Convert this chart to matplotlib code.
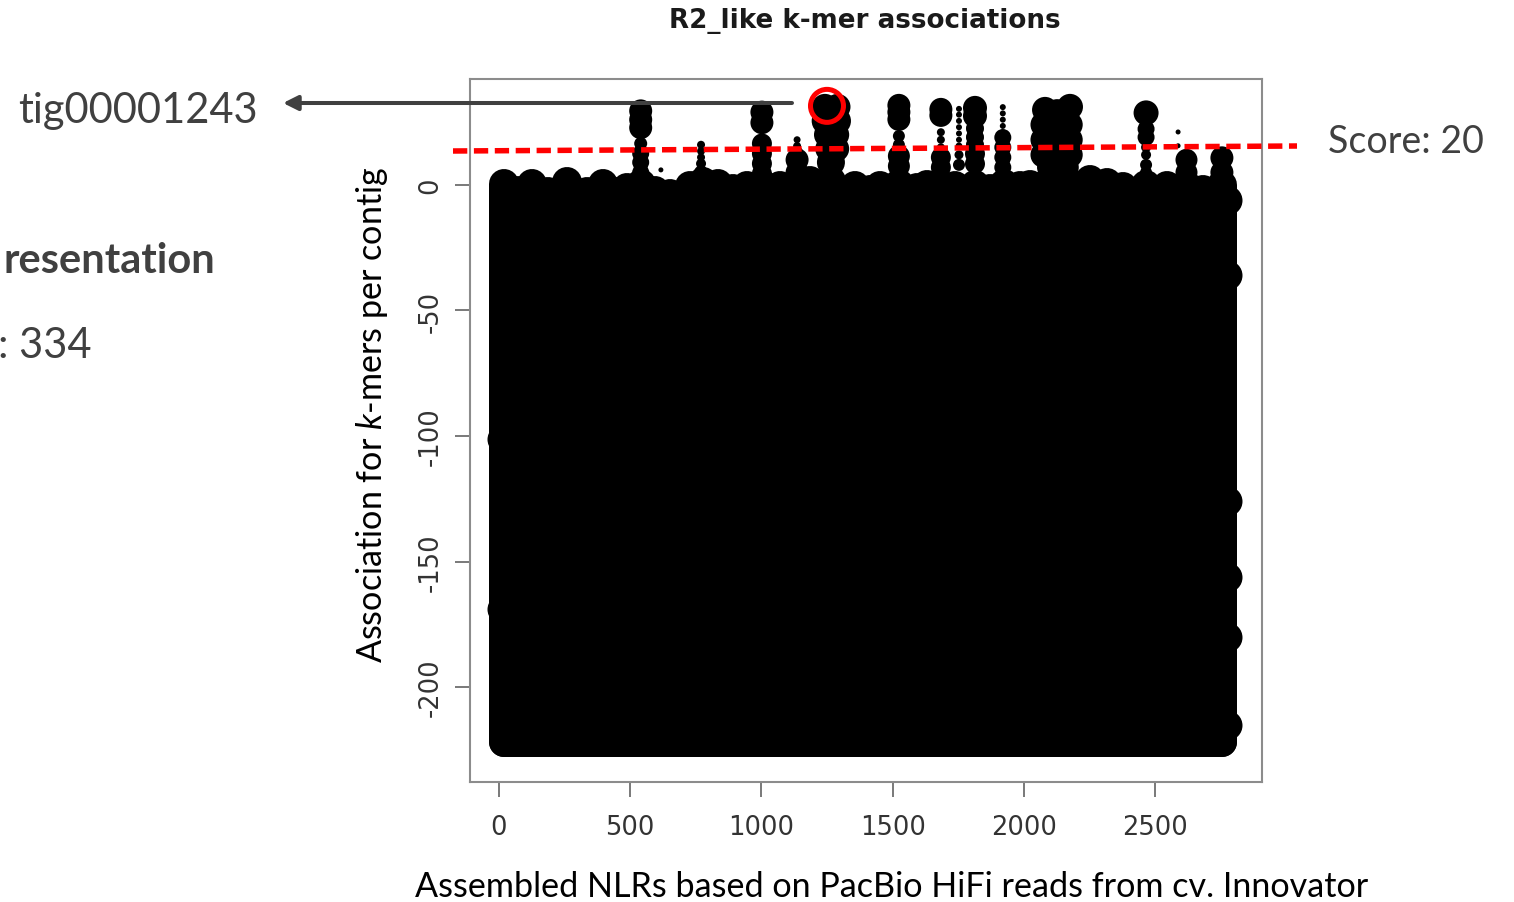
import matplotlib
matplotlib.use("Agg")
import matplotlib.pyplot as plt
from matplotlib.lines import Line2D

plt.rcParams["mathtext.fontset"] = "custom"
plt.rcParams["mathtext.rm"] = "Lato"
plt.rcParams["mathtext.it"] = "Lato:italic"
plt.rcParams["axes.unicode_minus"] = False

# body of the plot: one column of k-mers per contig (top value per contig)
body_x = [19, 67, 125, 187, 258, 334, 397, 448, 487, 540, 594, 652, 683, 728,
          777, 835, 892, 945, 1002, 1071, 1136, 1185, 1265, 1357, 1414, 1452,
          1524, 1593, 1631, 1684, 1738, 1814, 1871, 1925, 1985, 2024, 2080,
          2130, 2180, 2252, 2316, 2379, 2466, 2545, 2620, 2683, 2755]
body_top = [0.4, -2.4, 0.4, -2.8, 1.0, -2.8, 0.4, -2.8, -1.2, 0.4, -2.4, -3.6,
            -4.8, -0.4, 1.2, 0.4, -1.6, -0.4, 0.4, -0.4, 0.4, 1.6, 1.6, -0.4,
            -2.0, -0.4, 0.4, -1.2, 0.0, 0.0, -0.4, 0.0, -1.6, 0.4, -0.4, 0.0,
            0.0, 0.0, 0.0, 2.0, 0.8, -0.8, 0.0, -0.4, 0.0, -2.0, 0.0]
body_floor = -222

# k-mers sticking out of the body along the left / right edge
edge_x = [10, 10, 2775, 2775, 2775, 2775, 2775, 2775]
edge_y = [-101, -169, -6, -36, -126, -156, -180, -215]

# high-scoring k-mers (peaks above the body)
peak_x = [540, 540, 540, 540, 540, 540, 540, 617,
          770, 770, 770, 770, 770,
          1002, 1002, 1002, 1002, 1002, 1002,
          1136, 1136, 1136, 1136, 1136,
          1242, 1290, 1245, 1288, 1250, 1285, 1255, 1285, 1265,
          1524, 1524, 1524, 1524, 1524, 1524, 1524,
          1684, 1684, 1684, 1684, 1684, 1684, 1684,
          1753, 1753, 1753, 1753, 1753, 1753, 1753, 1753, 1753,
          1814, 1814, 1814, 1814, 1814, 1814, 1814,
          1920, 1920, 1920, 1920, 1920, 1920, 1920, 1920,
          2081, 2127, 2176, 2075, 2127, 2175, 2075, 2127, 2175, 2075, 2127, 2175,
          2100, 2160,
          2466, 2466, 2466, 2466, 2466, 2466, 2466,
          2588, 2588, 2620, 2620, 2755, 2755]
peak_y = [29.5, 26.0, 22.8, 16.5, 12.5, 9.0, 5.0, 6.0,
          16.0, 13.5, 11.0, 8.5, 5.0,
          29.0, 24.8, 16.5, 12.5, 8.5, 4.5,
          18.0, 15.5, 13.0, 10.0, 5.0,
          31.1, 31.1, 25.5, 25.5, 20.0, 20.0, 14.4, 14.4, 9.0,
          31.7, 29.0, 26.1, 19.5, 16.0, 11.5, 7.5,
          30.1, 27.7, 21.0, 18.0, 15.0, 11.0, 7.0,
          30.3, 28.0, 25.5, 23.0, 20.5, 18.0, 15.5, 12.0, 8.0,
          30.7, 27.5, 22.5, 19.0, 16.0, 12.4, 8.4,
          31.0, 28.5, 26.0, 23.5, 18.9, 15.0, 11.0, 7.0,
          29.9, 29.0, 31.1, 24.0, 24.0, 24.0, 18.0, 18.0, 18.0, 12.0, 12.0, 12.0,
          7.0, 7.0,
          28.7, 22.3, 19.0, 15.0, 12.0, 8.0, 5.0,
          21.1, 15.6, 10.0, 5.0, 10.8, 5.0]
peak_size_px = [23, 23, 23, 13, 17, 17, 17, 5,
                8, 8, 8, 10, 14,
                23, 23, 20, 20, 20, 20,
                7, 8, 12, 23, 23,
                26, 26, 28, 28, 26, 26, 26, 26, 28,
                23, 23, 23, 12, 12, 22, 22,
                23, 23, 8, 8, 8, 20, 20,
                6, 6, 6, 6, 6, 6, 7, 9, 12,
                24, 24, 18, 18, 18, 20, 20,
                6, 6, 6, 6, 17, 17, 17, 17,
                26, 26, 26, 26, 26, 26, 26, 26, 26, 26, 26, 26,
                26, 26,
                25, 17, 17, 10, 10, 12, 12,
                5, 5, 22, 22, 23, 23]

threshold_label = "Score: 20"
highlight_contig = "tig00001243"
highlight_x, highlight_y = 1250, 31.5

W, H = 1514, 903
fig = plt.figure(figsize=(W / 100, H / 100), dpi=100)
ax = fig.add_axes([470 / W, 1 - 783 / H, 792 / W, 703 / H])

px2pt = 0.72
body_d = 30

ax.fill_between(body_x, body_floor, body_top, color="black", lw=0, zorder=2)
ax.vlines(body_x, body_floor, body_top, colors="black",
          linewidth=body_d * px2pt, capstyle="round", zorder=2)
ax.plot(body_x, [body_floor] * len(body_x), color="black",
        lw=body_d * px2pt, solid_capstyle="round", zorder=2)
ax.scatter(edge_x, edge_y, s=(body_d * px2pt) ** 2, c="black", lw=0, zorder=2)
ax.scatter(peak_x, peak_y, s=[(d * px2pt) ** 2 for d in peak_size_px],
           c="black", lw=0, zorder=3)

# highlighted contig
ax.scatter([highlight_x], [highlight_y], s=(33 * px2pt) ** 2, facecolors="none",
           edgecolors="#ff0000", linewidths=5 * px2pt, zorder=5)

ax.set_xlim(-110.5, 2907.8)
ax.set_ylim(-237.8, 42.2)
ax.set_xticks([0, 500, 1000, 1500, 2000, 2500])
ax.set_yticks([0, -50, -100, -150, -200])
for sp in ax.spines.values():
    sp.set_color("#8c8c8c")
    sp.set_linewidth(1.5)
ax.tick_params(axis="both", length=11, width=1.1, color="#555555",
               labelcolor="#333333", labelsize=18.5)
ax.tick_params(axis="x", pad=12)
ax.tick_params(axis="y", pad=8)
for lab in ax.get_yticklabels():
    lab.set_rotation(90)
    lab.set_va("center")

fig.text(865 / W, 1 - 21 / H, "R2_like k-mer associations", ha="center",
         va="center", fontsize=18.8, fontweight="bold", family="DejaVu Sans",
         color="#1a1a1a")
fig.text(892 / W, 1 - 887 / H,
         "Assembled NLRs based on PacBio HiFi reads from cv. Innovator",
         ha="center", va="center", fontsize=24.6, family="Lato", color="black")
fig.text(372 / W, 1 - 415 / H, "Association for $k$-mers per contig",
         ha="center", va="center", rotation=90, fontsize=24.6, family="Lato",
         color="black")

# threshold line drawn over the figure
fig.add_artist(Line2D([453 / W, 1297 / W], [1 - 152 / H, 1 - 147 / H],
                      transform=fig.transFigure, color="#ff0000",
                      lw=5.5 * px2pt, dashes=(2.6, 1.2), zorder=6))
fig.text(1328 / W, 1 - 153 / H, threshold_label, ha="left", va="baseline",
         fontsize=27, family="Lato", color="#404040")

# arrow to the highlighted contig
ax.annotate("", xy=(283, H - 104), xytext=(792, H - 104),
            xycoords="figure pixels", textcoords="figure pixels",
            annotation_clip=False, zorder=7,
            arrowprops=dict(arrowstyle="-|>", color="#404040", lw=2.9,
                            mutation_scale=22, shrinkA=0, shrinkB=0))
fig.text(18 / W, 1 - 123 / H, highlight_contig, ha="left", va="baseline",
         fontsize=30, family="Lato", color="#404040")
fig.text(215 / W, 1 - 273 / H, "resentation", ha="right", va="baseline",
         fontsize=30, fontweight="bold", family="Lato", color="#404040")
fig.text(92 / W, 1 - 358 / H, ": 334", ha="right", va="baseline",
         fontsize=30, family="Lato", color="#404040")

fig.savefig("out.png", dpi=100)
